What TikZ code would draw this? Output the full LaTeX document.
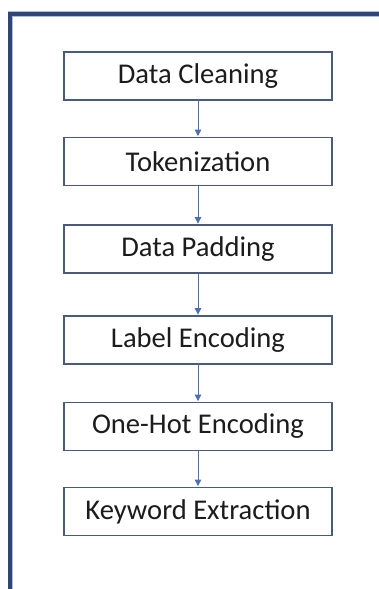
\documentclass[tikz,border=0pt]{standalone}
\usepackage{fontspec}
\setmainfont{Carlito}
\usetikzlibrary{arrows.meta}
\definecolor{framenavy}{HTML}{2F4677}
\definecolor{framehalo}{HTML}{A9BEE0}
\definecolor{boxedge}{HTML}{4A5A7E}
\definecolor{arrowblue}{HTML}{4A6FB5}
\definecolor{textdark}{HTML}{1C1C1C}
\tikzset{
  stagebox/.style={draw=boxedge, line width=1.4pt, fill=white,
    minimum width=268pt, minimum height=48pt, inner sep=0pt,
    text=textdark, font=\fontsize{28.6}{32}\selectfont},
  flowarrow/.style={draw=arrowblue, line width=0.9pt,
    -{Triangle[length=6.5pt,width=6.5pt]}, shorten >=0.7pt},
}
\begin{document}
\begin{tikzpicture}[x=1pt,y=-1pt]
  % canvas
  \fill[white] (0,0) rectangle (379,589);
  \useasboundingbox (0,0) rectangle (379,589);
  % outer frame (left and top edges)
  \draw[framehalo, line width=5.6pt] (10.3,589) -- (10.3,14) -- (379,14);
  \draw[framenavy, line width=3.8pt] (10.3,589) -- (10.3,14) -- (379,14);
  % pipeline stages
  \node[stagebox] (clean) at (198,76)    {Data Cleaning};
  \node[stagebox] (token) at (198,161.5) {Tokenization};
  \node[stagebox] (pad)   at (198,249)   {Data Padding};
  \node[stagebox] (label) at (198,340)   {Label Encoding};
  \node[stagebox] (onehot) at (198,426.5) {One-Hot Encoding};
  \node[stagebox] (kw)    at (198,511.5) {Keyword Extraction};
  % connectors
  \draw[flowarrow] (clean) -- (token);
  \draw[flowarrow] (token) -- (pad);
  \draw[flowarrow] (pad) -- (label);
  \draw[flowarrow] (label) -- (onehot);
  \draw[flowarrow] (onehot) -- (kw);
\end{tikzpicture}
\end{document}
